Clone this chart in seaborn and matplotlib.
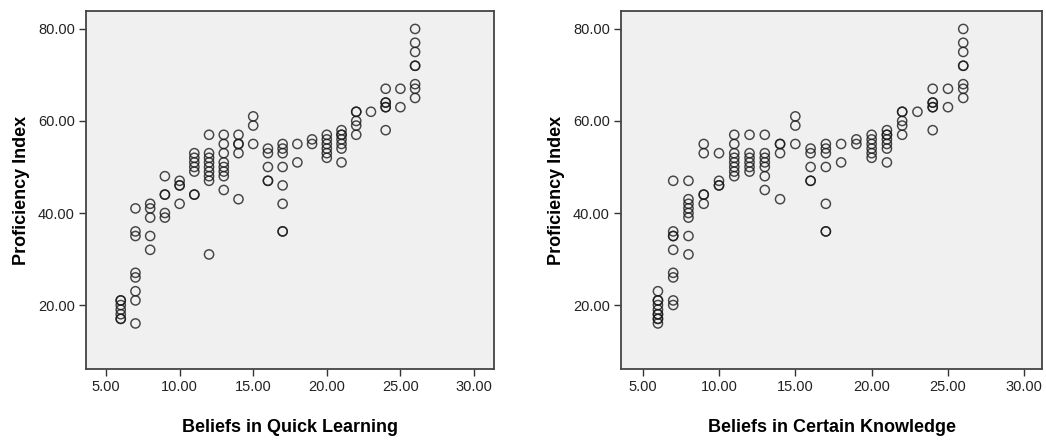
import matplotlib
matplotlib.use("Agg")
import matplotlib.pyplot as plt
import seaborn as sns
import pandas as pd

sns.set_style("white")
plt.rcParams['font.family'] = ['Liberation Sans', 'DejaVu Sans']

# belief score levels (x) and proficiency index values read at each level
belief_levels = [6, 7, 8, 9, 10, 11, 12, 13, 14, 15, 16, 17, 18, 19, 20, 21, 22, 23, 24, 25, 26]

quick_scores = [
    [17, 17, 18, 19, 20, 21, 21],
    [41, 36, 35, 27, 26, 23, 21, 16],
    [42, 41, 39, 35, 32],
    [48, 44, 44, 40, 39],
    [47, 46, 46, 42],
    [53, 52, 51, 50, 49, 44, 44],
    [57, 53, 52, 51, 50, 49, 48, 47, 31],
    [57, 55, 53, 51, 50, 49, 48, 45],
    [57, 55, 55, 53, 43],
    [61, 59, 55],
    [54, 53, 50, 47, 47],
    [55, 54, 53, 50, 46, 42, 36, 36],
    [55, 51],
    [56, 55],
    [57, 56, 55, 54, 53, 52],
    [58, 57, 57, 56, 55, 54, 51],
    [62, 62, 60, 59, 57],
    [62],
    [67, 64, 64, 63, 63, 58],
    [67, 63],
    [80, 77, 75, 72, 72, 68, 67, 65],
]

certain_scores = [
    [23, 21, 21, 20, 19, 18, 18, 17, 17, 16],
    [47, 36, 35, 35, 32, 27, 26, 21, 20],
    [47, 43, 42, 41, 40, 39, 35, 31],
    [55, 53, 44, 44, 42],
    [53, 47, 46, 46],
    [57, 55, 53, 52, 51, 50, 49, 48],
    [57, 53, 52, 51, 50, 49],
    [57, 53, 52, 51, 50, 48, 45],
    [55, 55, 53, 43],
    [61, 59, 55],
    [54, 53, 50, 47, 47],
    [55, 54, 53, 50, 42, 36, 36],
    [55, 51],
    [56, 55],
    [57, 56, 55, 54, 53, 52],
    [58, 57, 57, 56, 55, 54, 51],
    [62, 62, 60, 59, 57],
    [62],
    [67, 64, 64, 63, 63, 58],
    [67, 63],
    [80, 77, 75, 72, 72, 68, 67, 65],
]

x_ticks = [5, 10, 15, 20, 25, 30]
y_ticks = [20, 40, 60, 80]


def to_frame(scores):
    rows = [(lvl, v) for lvl, vals in zip(belief_levels, scores) for v in vals]
    return pd.DataFrame(rows, columns=["belief", "proficiency"])


fig = plt.figure(figsize=(10.46, 4.46), dpi=100)
ax1 = fig.add_axes([86 / 1046, 77 / 446, 408 / 1046, 358 / 446])
ax2 = fig.add_axes([621 / 1046, 77 / 446, 421 / 1046, 358 / 446])

panels = [
    (ax1, quick_scores, "Beliefs in Quick Learning", (3.64, 31.36)),
    (ax2, certain_scores, "Beliefs in Certain Knowledge", (3.58, 31.16)),
]

for ax, scores, xlabel, xlim in panels:
    df = to_frame(scores)
    sns.scatterplot(data=df, x="belief", y="proficiency", ax=ax,
                    marker="o", s=44, facecolors="none",
                    edgecolor="#1a1a1a", linewidth=1.05, alpha=0.8)
    ax.set_facecolor("#f0f0f0")
    ax.set_xlim(*xlim)
    ax.set_ylim(6.1, 83.9)
    ax.set_xticks(x_ticks)
    ax.set_yticks(y_ticks)
    ax.set_xticklabels([f"{t:.2f}" for t in x_ticks])
    ax.set_yticklabels([f"{t:.2f}" for t in y_ticks])
    ax.tick_params(axis="both", direction="out", length=5, width=1,
                   color="#333333", labelsize=10.5, labelcolor="#222222",
                   left=True, bottom=True, pad=3)
    ax.set_xlabel(xlabel, fontsize=13, fontweight="bold", color="black", labelpad=18)
    ax.set_ylabel("Proficiency Index", fontsize=13, fontweight="bold", color="black", labelpad=6)
    for spine in ax.spines.values():
        spine.set_visible(True)
        spine.set_color("#444444")
        spine.set_linewidth(1.3)

plt.savefig("out.png", dpi=100)
